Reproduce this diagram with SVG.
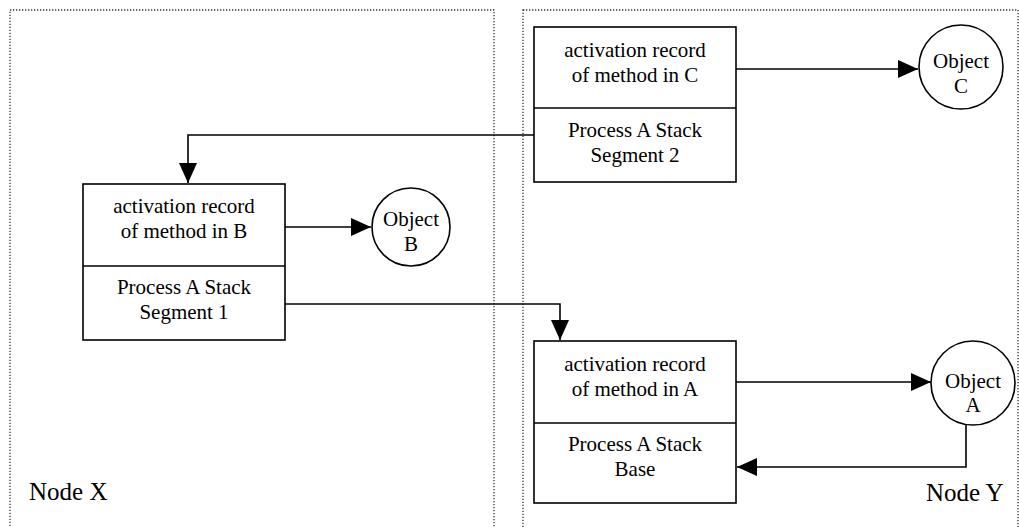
<svg xmlns="http://www.w3.org/2000/svg" width="1019" height="527" viewBox="0 0 1019 527">
  <defs>
    <marker id="arrow" markerWidth="20" markerHeight="18" refX="20" refY="9" orient="auto" markerUnits="userSpaceOnUse">
      <path d="M0,0 L20,9 L0,18 Z" fill="#000"/>
    </marker>
    <style>
      .region { fill: none; stroke: #333; stroke-width: 1.3; stroke-dasharray: 1.3 1.7; }
      .box { fill: #fff; stroke: #000; stroke-width: 1.6; }
      .obj { fill: #fff; stroke: #000; stroke-width: 1.6; }
      .edge { fill: none; stroke: #000; stroke-width: 1.6; marker-end: url(#arrow); }
      text { font-family: "Liberation Serif", "Times New Roman", serif; fill: #000; }
      .t { font-size: 21px; text-anchor: middle; }
      .lbl { font-size: 25px; }
    </style>
  </defs>

  <!-- Node regions -->
  <g id="node-x">
    <rect class="region" x="10" y="10" width="484" height="530"/>
    <text class="lbl" x="29" y="500">Node X</text>
  </g>
  <g id="node-y">
    <rect class="region" x="523" y="10" width="495" height="530"/>
    <text class="lbl" x="926" y="501">Node Y</text>
  </g>

  <!-- Stack segment 2 on node Y -->
  <g id="segment-2">
    <rect class="box" x="534" y="27" width="202" height="155"/>
    <line class="box" x1="534" y1="108" x2="736" y2="108"/>
    <text class="t" x="635" y="57">activation record</text>
    <text class="t" x="635" y="82">of method in C</text>
    <text class="t" x="635" y="137">Process A Stack</text>
    <text class="t" x="635" y="162">Segment 2</text>
  </g>

  <!-- Stack segment 1 on node X -->
  <g id="segment-1">
    <rect class="box" x="83" y="184" width="202" height="156"/>
    <line class="box" x1="83" y1="266" x2="285" y2="266"/>
    <text class="t" x="184" y="213">activation record</text>
    <text class="t" x="184" y="238">of method in B</text>
    <text class="t" x="184" y="294">Process A Stack</text>
    <text class="t" x="184" y="319">Segment 1</text>
  </g>

  <!-- Stack base on node Y -->
  <g id="stack-base">
    <rect class="box" x="534" y="341" width="202" height="162"/>
    <line class="box" x1="534" y1="423" x2="736" y2="423"/>
    <text class="t" x="635" y="371">activation record</text>
    <text class="t" x="635" y="396">of method in A</text>
    <text class="t" x="635" y="451">Process A Stack</text>
    <text class="t" x="635" y="476">Base</text>
  </g>

  <!-- Objects -->
  <g id="object-c">
    <circle class="obj" cx="961" cy="67" r="42"/>
    <text class="t" x="961" y="68">Object</text>
    <text class="t" x="961" y="93">C</text>
  </g>
  <g id="object-b">
    <circle class="obj" cx="411" cy="227" r="39"/>
    <text class="t" x="411" y="226">Object</text>
    <text class="t" x="411" y="251">B</text>
  </g>
  <g id="object-a">
    <circle class="obj" cx="973" cy="383" r="42"/>
    <text class="t" x="973" y="388">Object</text>
    <text class="t" x="973" y="412">A</text>
  </g>

  <!-- Connectors -->
  <g id="connectors">
    <path class="edge" d="M736,69 L918,69"/>
    <path class="edge" d="M534,135 L188,135 L188,183"/>
    <path class="edge" d="M285,227 L371,227"/>
    <path class="edge" d="M285,304 L560,304 L560,340"/>
    <path class="edge" d="M736,382 L931,382"/>
    <path class="edge" d="M966,425 L966,467 L737,467"/>
  </g>
</svg>
